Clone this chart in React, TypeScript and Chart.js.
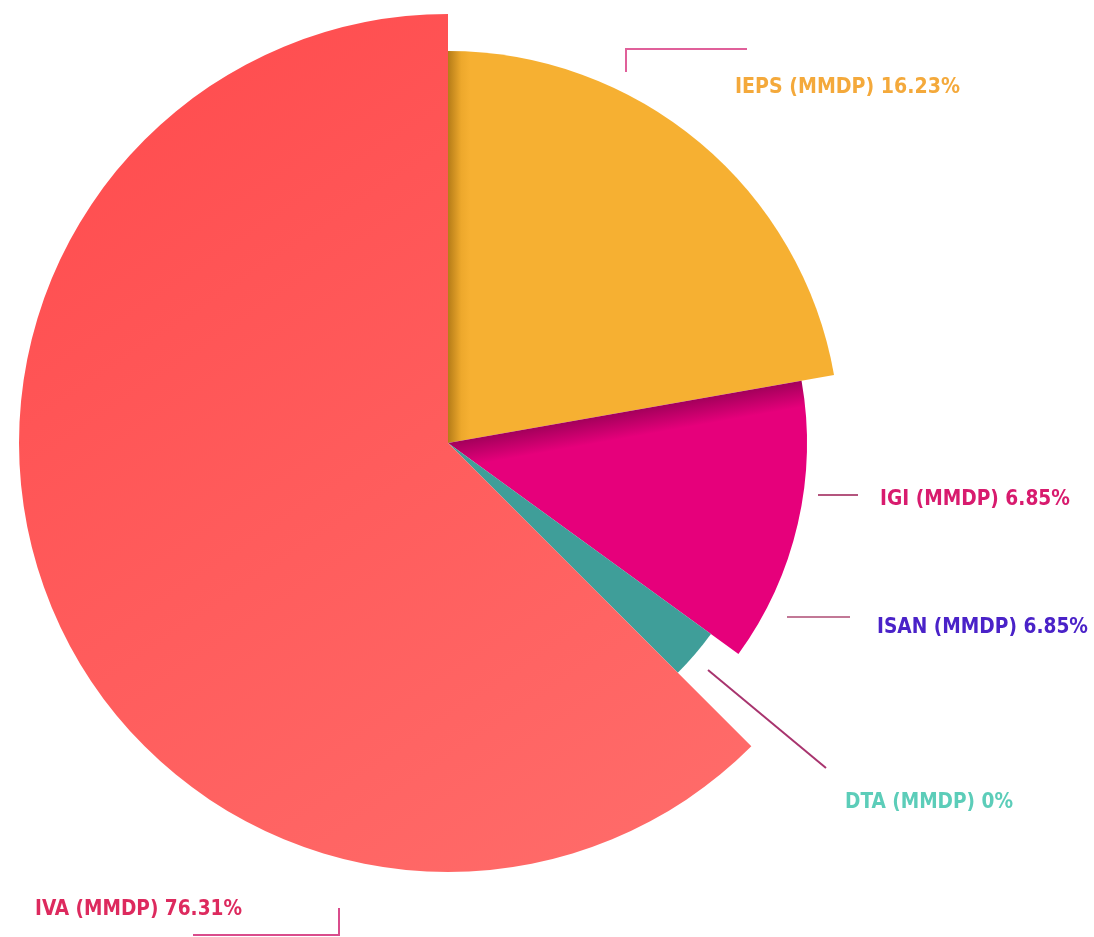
import React, { useEffect, useRef } from "react";
import { Chart, registerables } from "chart.js";

Chart.register(...registerables);

// Slices, clockwise from 12 o'clock
const categories = ["IEPS (MMDP)", "IGI (MMDP)", "DTA (MMDP)", "IVA (MMDP)"];
const sliceAngles = [80, 46, 9, 225]; // degrees of each slice
const sliceRadii = [392, 359, 325, 429]; // relative radius of each slice
const radiusMax = 429;

// Annotation texts
const labelTexts = [
  "IEPS (MMDP) 16.23%",
  "IGI (MMDP) 6.85%",
  "ISAN (MMDP) 6.85%",
  "DTA (MMDP) 0%",
  "IVA (MMDP) 76.31%",
];

const FONT = "bold 22px 'DejaVu Sans Condensed', 'Liberation Sans Narrow', 'DejaVu Sans', sans-serif";

const labelLayout = [
  { x: 735, y: 93, w: 225, color: "#F4A93B" },
  { x: 880, y: 505, w: 190, color: "#D81B6E" },
  { x: 877, y: 633, w: 211, color: "#4A22C8" },
  { x: 845, y: 808, w: 168, color: "#5CCDB9" },
  { x: 35, y: 915, w: 207, color: "#DD2A5E" },
];

const leaderLines: { pts: number[][]; color: string }[] = [
  { pts: [[626, 72], [626, 49], [747, 49]], color: "#E0609A" },
  { pts: [[818, 495], [858, 495]], color: "#B4557E" },
  { pts: [[787, 617], [850, 617]], color: "#C27896" },
  { pts: [[708, 670], [826, 768]], color: "#A8346E" },
  { pts: [[339, 908], [339, 935], [193, 935]], color: "#D94C8C" },
];

const labelsPlugin = {
  id: "customLabels",
  afterDraw(chart: any) {
    const ctx = chart.ctx;
    ctx.save();
    leaderLines.forEach((l) => {
      ctx.beginPath();
      ctx.strokeStyle = l.color;
      ctx.lineWidth = 2;
      l.pts.forEach((p, i) => (i === 0 ? ctx.moveTo(p[0], p[1]) : ctx.lineTo(p[0], p[1])));
      ctx.stroke();
    });
    ctx.font = FONT;
    ctx.textBaseline = "alphabetic";
    ctx.textAlign = "left";
    labelTexts.forEach((t, i) => {
      const L = labelLayout[i];
      ctx.fillStyle = L.color;
      ctx.fillText(t, L.x, L.y, L.w);
    });
    ctx.restore();
  },
};

function sliceColor(context: any) {
  const chart = context.chart;
  const i = context.dataIndex;
  const flat = ["#F6B032", "#E6007B", "#3F9E99", "#FF5E5C"];
  const scale = chart.scales && chart.scales.r;
  if (!chart.chartArea || !scale || scale.xCenter === undefined) return flat[i];
  const cx = scale.xCenter;
  const cy = scale.yCenter;
  const c = chart.ctx;
  if (i === 0) {
    const g = c.createLinearGradient(cx, 0, cx + 22, 0);
    g.addColorStop(0, "#B57C18");
    g.addColorStop(0.6, "#EDA82C");
    g.addColorStop(1, "#F6B032");
    return g;
  }
  if (i === 1) {
    const a = (80 * Math.PI) / 180;
    const px = Math.cos(a), py = Math.sin(a);
    const g = c.createLinearGradient(cx, cy, cx + px * 26, cy + py * 26);
    g.addColorStop(0, "#A3005B");
    g.addColorStop(1, "#E6007B");
    return g;
  }
  if (i === 2) {
    return "#3F9E99";
  }
  const g = c.createLinearGradient(cx - 300, cy - 400, cx + 250, cy + 420);
  g.addColorStop(0, "#FF4D4F");
  g.addColorStop(1, "#FF6C6A");
  return g;
}

export default function App() {
  const ref = useRef<HTMLCanvasElement | null>(null);
  useEffect(() => {
    if (!ref.current) return;
    const chart = new Chart(ref.current, {
      type: "polarArea",
      data: {
        labels: categories,
        datasets: [
          {
            data: sliceRadii,
            angle: sliceAngles,
            backgroundColor: sliceColor,
            borderWidth: 0,
          } as any,
        ],
      },
      options: {
        responsive: false,
        animation: false,
        startAngle: 0,
        layout: { padding: { left: 19, top: 14, right: 217, bottom: 65 } },
        plugins: { legend: { display: false }, tooltip: { enabled: false } },
        scales: {
          r: {
            min: 0,
            max: radiusMax,
            ticks: { display: false },
            grid: { display: false },
            angleLines: { display: false },
            pointLabels: { display: false },
          },
        },
      } as any,
      plugins: [labelsPlugin],
    });
    return () => chart.destroy();
  }, []);
  return (
    <div style={{ position: "absolute", left: 0, top: 0, width: 1094, height: 937, background: "#fff" }}>
      <canvas ref={ref} width={1094} height={937} style={{ width: 1094, height: 937, display: "block" }} />
    </div>
  );
}
